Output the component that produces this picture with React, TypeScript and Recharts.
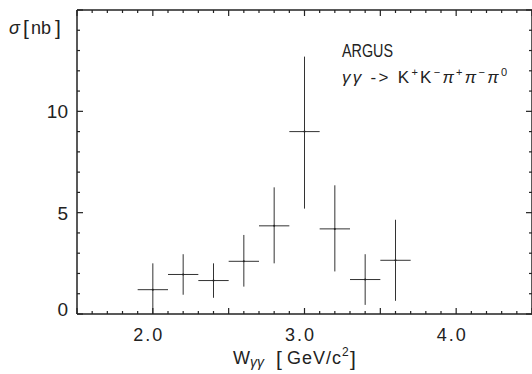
import React from 'react';
import { ComposedChart, Scatter, XAxis, YAxis, ErrorBar } from 'recharts';

// W_gamma-gamma bin centres [GeV/c^2] and cross sections [nb]
const wBins = [2.0, 2.2, 2.4, 2.6, 2.8, 3.0, 3.2, 3.4, 3.6];
const sigmaNb = [1.2, 1.95, 1.65, 2.6, 4.35, 9.0, 4.2, 1.7, 2.65];
const errLow = [1.2, 1.0, 0.85, 1.25, 1.85, 3.8, 2.1, 1.25, 2.0];
const errHigh = [1.3, 1.0, 0.85, 1.3, 1.9, 3.7, 2.15, 1.25, 2.0];
const binHalfWidth = [0.1, 0.1, 0.1, 0.1, 0.1, 0.1, 0.1, 0.1, 0.1];

// axis ticks
const xTicks = [
  1.5, 1.6, 1.7, 1.8, 1.9, 2.0, 2.1, 2.2, 2.3, 2.4, 2.5, 2.6, 2.7, 2.8, 2.9, 3.0,
  3.1, 3.2, 3.3, 3.4, 3.5, 3.6, 3.7, 3.8, 3.9, 4.0, 4.1, 4.2, 4.3, 4.4, 4.5,
];
const xLabels = [2.0, 3.0, 4.0];
const yTicks = [0, 1, 2, 3, 4, 5, 6, 7, 8, 9, 10, 11, 12, 13, 14, 15];
const yLabels = [0, 5, 10];

const data = wBins.map((w, i) => ({
  w,
  sigma: sigmaNb[i],
  ex: binHalfWidth[i],
  ey: [errLow[i], errHigh[i]],
}));

const INK = '#222';
const FONT = "'Liberation Sans', Arial, sans-serif";

const near = (a: number, b: number) => Math.abs(a - b) < 1e-6;
const isHalf = (v: number) => near(v * 2, Math.round(v * 2));

const BottomTick = (props: any) => {
  const { x, y, payload } = props;
  const v = payload.value;
  const len = isHalf(v) ? 6 : 3;
  const label = xLabels.some((l) => near(l, v));
  return (
    <g>
      <line x1={x} x2={x} y1={y} y2={y - len} stroke={INK} strokeWidth={1.2} />
      {label && (
        <text x={x - 4} y={y + 27} textAnchor="middle" fontSize={18} letterSpacing={2} fill={INK} fontFamily={FONT}>
          {v.toFixed(1)}
        </text>
      )}
    </g>
  );
};

const TopTick = (props: any) => {
  const { x, y, payload } = props;
  const len = isHalf(payload.value) ? 6 : 3;
  return <line x1={x} x2={x} y1={y} y2={y + len} stroke={INK} strokeWidth={1.2} />;
};

const LeftTick = (props: any) => {
  const { x, y, payload } = props;
  const v = payload.value;
  const major = v % 5 === 0;
  const label = yLabels.includes(v);
  return (
    <g>
      <line x1={x} x2={x + (major ? 6 : 3)} y1={y} y2={y} stroke={INK} strokeWidth={1.2} />
      {label && (
        <text x={x - 9} y={y + (v === 0 ? 2 : 7)} textAnchor="end" fontSize={19} fill={INK} fontFamily={FONT}>
          {v}
        </text>
      )}
    </g>
  );
};

const RightTick = (props: any) => {
  const { x, y, payload } = props;
  const len = payload.value % 5 === 0 ? 6 : 3;
  return <line x1={x} x2={x - len} y1={y} y2={y} stroke={INK} strokeWidth={1.2} />;
};

const Dot = (props: any) => <circle cx={props.cx} cy={props.cy} r={1} fill={INK} />;

export default function App() {
  return (
    <div style={{ position: 'absolute', left: 0, top: 0, width: 532, height: 374, background: '#fff' }}>
      <ComposedChart width={532} height={374} data={data} margin={{ top: 9, right: -1, bottom: 0, left: 0 }}>
        <XAxis
          dataKey="w"
          type="number"
          domain={[1.5, 4.5]}
          ticks={xTicks}
          interval={0}
          height={60}
          tickSize={0}
          tickMargin={0}
          tickLine={false}
          tick={<BottomTick />}
          axisLine={{ stroke: INK, strokeWidth: 1.5 }}
          allowDataOverflow
        />
        <XAxis
          xAxisId="top"
          orientation="top"
          dataKey="w"
          type="number"
          domain={[1.5, 4.5]}
          ticks={xTicks}
          interval={0}
          height={1}
          tickSize={0}
          tickMargin={0}
          tickLine={false}
          tick={<TopTick />}
          axisLine={{ stroke: INK, strokeWidth: 1.5 }}
          allowDataOverflow
        />
        <YAxis
          type="number"
          domain={[0, 15]}
          ticks={yTicks}
          interval={0}
          width={77}
          tickSize={0}
          tickMargin={0}
          tickLine={false}
          tick={<LeftTick />}
          axisLine={{ stroke: INK, strokeWidth: 1.5 }}
          allowDataOverflow
        />
        <YAxis
          yAxisId="right"
          orientation="right"
          type="number"
          domain={[0, 15]}
          ticks={yTicks}
          interval={0}
          width={1}
          tickSize={0}
          tickMargin={0}
          tickLine={false}
          tick={<RightTick />}
          axisLine={{ stroke: INK, strokeWidth: 1.5 }}
          allowDataOverflow
        />
        <Scatter dataKey="sigma" fill={INK} shape={<Dot />} isAnimationActive={false}>
          <ErrorBar dataKey="ey" direction="y" width={0} stroke="#333" strokeWidth={1} isAnimationActive={false} />
          <ErrorBar dataKey="ex" direction="x" width={0} stroke="#333" strokeWidth={1} isAnimationActive={false} />
        </Scatter>
      </ComposedChart>
      <svg
        width={532}
        height={374}
        style={{ position: 'absolute', left: 0, top: 0, pointerEvents: 'none' }}
        fontFamily={FONT}
        fill={INK}
      >
        <text x={9} y={34} fontSize={18} fontStyle="italic">σ</text>
        <text x={23} y={35} fontSize={21}>[</text>
        <text x={31} y={34} fontSize={18}>nb</text>
        <text x={55} y={35} fontSize={21}>]</text>
        <text x={342} y={57} fontSize={18} textLength={51} lengthAdjust="spacingAndGlyphs">ARGUS</text>
        <text x={342} y={83} fontSize={17} textLength={165} lengthAdjust="spacing">
          <tspan fontStyle="italic">γγ</tspan>
          <tspan> -&gt; </tspan>
          <tspan>K</tspan>
          <tspan fontSize={11} dy={-7}>+</tspan>
          <tspan dy={7}>K</tspan>
          <tspan fontSize={11} dy={-7}>−</tspan>
          <tspan dy={7} fontStyle="italic">π</tspan>
          <tspan fontSize={11} dy={-7}>+</tspan>
          <tspan dy={7} fontStyle="italic">π</tspan>
          <tspan fontSize={11} dy={-7}>−</tspan>
          <tspan dy={7} fontStyle="italic">π</tspan>
          <tspan fontSize={11} dy={-7}>0</tspan>
        </text>
        <text x={233} y={364} fontSize={18}>
          <tspan>W</tspan>
          <tspan fontSize={14} dy={3} fontStyle="italic">γγ</tspan>
        </text>
        <text x={276} y={366} fontSize={21}>[</text>
        <text x={287} y={364} fontSize={18} textLength={54} lengthAdjust="spacing">GeV/c</text>
        <text x={342} y={356} fontSize={12}>2</text>
        <text x={350} y={366} fontSize={21}>]</text>
      </svg>
    </div>
  );
}
